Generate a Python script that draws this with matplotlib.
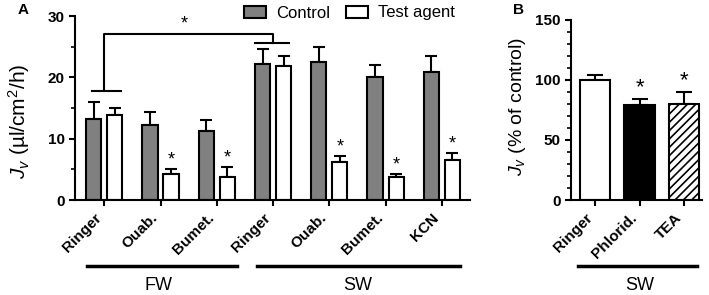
import matplotlib
matplotlib.use("Agg")
import matplotlib.pyplot as plt
from matplotlib.patches import Patch
import numpy as np

plt.rcParams['font.family'] = ['Liberation Sans', 'DejaVu Sans']
plt.rcParams['mathtext.fontset'] = 'custom'
plt.rcParams['mathtext.rm'] = 'Liberation Sans'
plt.rcParams['mathtext.it'] = 'Liberation Sans:italic'
plt.rcParams['hatch.linewidth'] = 1.2

# ---- Panel A data ----
a_labels = ["Ringer", "Ouab.", "Bumet.", "Ringer", "Ouab.", "Bumet.", "KCN"]
a_control = [13.2, 12.2, 11.3, 22.2, 22.5, 20.1, 20.8]
a_control_err = [2.8, 2.1, 1.7, 2.5, 2.4, 1.9, 2.7]
a_test = [13.9, 4.2, 3.8, 21.9, 6.2, 3.7, 6.6]
a_test_err = [1.1, 0.8, 1.5, 1.5, 0.9, 0.5, 1.0]
a_test_sig = [False, True, True, False, True, True, True]
a_groups = ["FW", "SW"]

# ---- Panel B data ----
b_labels = ["Ringer", "Phlorid.", "TEA"]
b_values = [100, 79, 80]
b_err = [4, 5, 10]
b_sig = [False, True, True]
b_group = "SW"

fig = plt.figure(figsize=(7.09, 2.95), dpi=100)
axA = fig.add_axes([75/709, 1-200/295, (470-75)/709, (200-16)/295])
axB = fig.add_axes([571/709, 1-200/295, (702-571)/709, (200-20)/295])

lw = 1.5
for ax in (axA, axB):
    ax.spines['top'].set_visible(False)
    ax.spines['right'].set_visible(False)
    ax.spines['left'].set_linewidth(lw)
    ax.spines['bottom'].set_linewidth(lw)
    ax.tick_params(direction='out', width=lw, length=4)
    ax.tick_params(which='minor', direction='out', width=1.2, length=3)

# Panel A bars
x = np.arange(len(a_labels))
w = 0.27
off = 0.187
axA.bar(x - off, a_control, w, color='#808080', edgecolor='black', linewidth=1.5, zorder=2)
axA.bar(x + off, a_test, w, color='white', edgecolor='black', linewidth=1.5, zorder=2)
axA.errorbar(x - off, a_control, yerr=[np.zeros(len(x)), a_control_err], fmt='none',
             ecolor='black', elinewidth=1.5, capsize=4, capthick=1.5, zorder=1)
axA.errorbar(x + off, a_test, yerr=[np.zeros(len(x)), a_test_err], fmt='none',
             ecolor='black', elinewidth=1.5, capsize=4, capthick=1.5, zorder=1)
for xi, v, e, s in zip(x, a_test, a_test_err, a_test_sig):
    if s:
        axA.text(xi + off, v + e + 0.2, '*', ha='center', va='bottom', fontsize=13)

axA.set_xlim(-0.52, 6.5)
axA.set_ylim(0, 30)
axA.set_yticks([0, 10, 20, 30])
axA.set_yticks([5, 15, 25], minor=True)
axA.set_xticks(x)
axA.set_xticklabels(a_labels, rotation=45, ha='right', fontsize=11, fontweight='bold')
for t in axA.get_yticklabels():
    t.set_fontweight('bold')
    t.set_fontsize(11)
axA.set_ylabel(r'$J_v$ (µl/cm$^2$/h)', fontsize=15)
axA.yaxis.set_label_coords(-0.11, 0.43)

# significance bracket
kw = dict(color='black', lw=1.5, clip_on=False)
axA.plot([-0.21, 0.30], [17.8, 17.8], **kw)
axA.plot([0, 0, 3, 3], [17.8, 27.0, 27.0, 25.6], **kw)
axA.plot([2.68, 3.29], [25.6, 25.6], **kw)
axA.text(1.42, 27.3, '*', ha='center', va='bottom', fontsize=13)

# group lines under panels
gy = 266
def fig_line(x0, x1, y):
    fig.add_artist(plt.Line2D([x0/709, x1/709], [1-y/295, 1-y/295], color='black', lw=2.5))
fig_line(87, 237, gy)
fig_line(257, 460, gy)
fig.text(159/709, 1-285/295, a_groups[0], ha='center', va='center', fontsize=13)
fig.text(358/709, 1-285/295, a_groups[1], ha='center', va='center', fontsize=13)

# legend
handles = [Patch(facecolor='#808080', edgecolor='black', linewidth=1.5, label='Control'),
           Patch(facecolor='white', edgecolor='black', linewidth=1.5, label='Test agent')]
fig.legend(handles=handles, loc='center left', bbox_to_anchor=(244/709, 1-13/295), ncol=2,
           frameon=False, fontsize=12, handlelength=1.3, handleheight=0.75,
           handletextpad=0.6, columnspacing=1.0, borderaxespad=0, borderpad=0)

# Panel B
xb = np.arange(len(b_labels))
wb = 0.68
axB.bar(xb, b_values, wb, color=['white', 'black', 'white'], edgecolor='black',
        linewidth=1.5, hatch=['', '', '////'], zorder=2)
axB.errorbar(xb, b_values, yerr=[np.zeros(len(xb)), b_err], fmt='none', ecolor='black',
             elinewidth=1.5, capsize=6, capthick=1.5, zorder=1)
for xi, v, e, s in zip(xb, b_values, b_err, b_sig):
    if s:
        axB.text(xi, v + e + 0.5, '*', ha='center', va='bottom', fontsize=16)
axB.set_xlim(-0.54, 2.4)
axB.set_ylim(0, 150)
axB.set_yticks([0, 50, 100, 150])
axB.set_yticks(np.arange(10, 150, 10), minor=True)
axB.set_xticks(xb)
axB.set_xticklabels(b_labels, rotation=45, ha='right', fontsize=11, fontweight='bold')
for t in axB.get_yticklabels():
    t.set_fontweight('bold')
    t.set_fontsize(11)
axB.set_ylabel(r'$J_v$ (% of control)', fontsize=14)
axB.yaxis.set_label_coords(-0.33, 0.52)
fig_line(578, 697, gy)
fig.text(640/709, 1-285/295, b_group, ha='center', va='center', fontsize=13)

fig.text(23/709, 1-10/295, 'A', ha='center', va='center', fontsize=11, fontweight='bold')
fig.text(518/709, 1-10/295, 'B', ha='center', va='center', fontsize=11, fontweight='bold')

fig.savefig('out.png', dpi=100)
